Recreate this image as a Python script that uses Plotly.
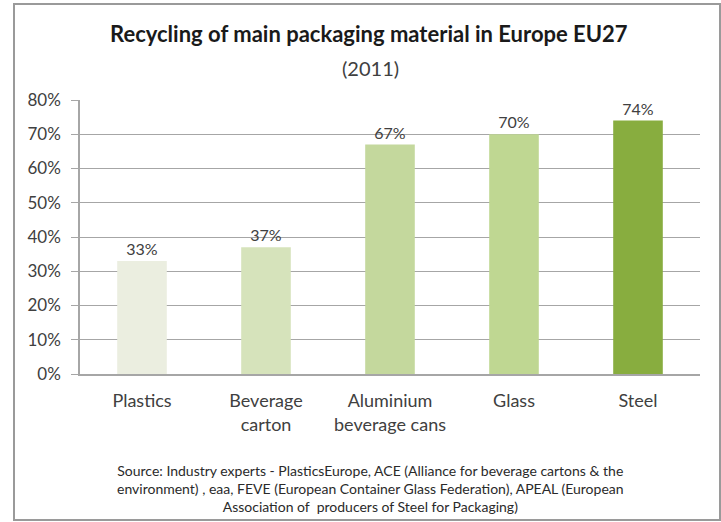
import plotly.graph_objects as go

# Recycling rates of main packaging materials, EU27, 2011
categories = ["Plastics", "Beverage<br>carton", "Aluminium<br>beverage cans", "Glass", "Steel"]
rates = [0.33, 0.37, 0.67, 0.70, 0.74]
bar_colors = ["#ebeee0", "#d6e3bb", "#c4d89d", "#bfd792", "#88ad3f"]
y_ticks = [0, 0.1, 0.2, 0.3, 0.4, 0.5, 0.6, 0.7, 0.8]
y_tick_text = ["0%", "10%", "20%", "30%", "40%", "50%", "60%", "70%", "80%"]

title_main = "Recycling of main packaging material in Europe EU27"
title_sub = "(2011)"
source_text = ("Source: Industry experts - PlasticsEurope, ACE (Alliance for beverage cartons &amp; the<br>"
               "environment) , eaa, FEVE (European Container Glass Federation), APEAL (European<br>"
               "Association of  producers of Steel for Packaging)")

FONT = "Lato, 'Open Sans', sans-serif"
TXT = "#404040"

fig = go.Figure(
    go.Bar(
        x=categories,
        y=rates,
        marker=dict(color=bar_colors, line=dict(width=0)),
        text=[f"{round(v * 100)}%" for v in rates],
        textposition="outside",
        textfont=dict(family=FONT, size=16, color=TXT),
        cliponaxis=False,
        hoverinfo="skip",
    )
)

W, H = 721, 522
L, R, T, B = 80, 21, 100, 148
pw, ph = W - L - R, H - T - B

def px_x(x):
    return (x - L) / pw

def px_y(y):
    return (H - B - y) / ph

fig.update_layout(
    width=W,
    height=H,
    margin=dict(l=L, r=R, t=T, b=B),
    paper_bgcolor="white",
    plot_bgcolor="white",
    showlegend=False,
    bargap=0.6,
    font=dict(family=FONT, color=TXT),
    xaxis=dict(
        showline=True,
        linecolor="#a6a6a6",
        linewidth=1.5,
        ticks="",
        tickfont=dict(family=FONT, size=18, color=TXT),
        ticklabelstandoff=10,
        showgrid=False,
    ),
    yaxis=dict(
        range=[0, 0.8],
        tickvals=y_ticks,
        ticktext=y_tick_text,
        showline=True,
        linecolor="#a6a6a6",
        linewidth=1.5,
        ticks="outside",
        ticklen=7,
        tickcolor="#a6a6a6",
        showgrid=True,
        gridcolor="#a6a6a6",
        gridwidth=1.2,
        zeroline=False,
        ticklabelstandoff=7,
        tickfont=dict(family=FONT, size=17, color=TXT),
    ),
    annotations=[
        dict(text=f"<b>{title_main}</b>", xref="paper", yref="paper",
             x=px_x(369), y=px_y(33), xanchor="center", yanchor="middle",
             showarrow=False, font=dict(family=FONT, size=22, color="#1a1a1a")),
        dict(text=title_sub, xref="paper", yref="paper",
             x=px_x(370), y=px_y(68), xanchor="center", yanchor="middle",
             showarrow=False, font=dict(family=FONT, size=20, color=TXT)),
        dict(text=source_text, xref="paper", yref="paper",
             x=px_x(370), y=px_y(488), xanchor="center", yanchor="middle",
             align="center", showarrow=False,
             font=dict(family=FONT, size=14, color="#2a2a2a")),
    ],
    shapes=[
        dict(type="rect", xref="paper", yref="paper",
             x0=px_x(14), x1=px_x(720), y0=px_y(520), y1=px_y(4),
             line=dict(color="#9a9a9a", width=2), fillcolor="rgba(0,0,0,0)",
             layer="below"),
    ],
)

fig.write_html("out.html")
